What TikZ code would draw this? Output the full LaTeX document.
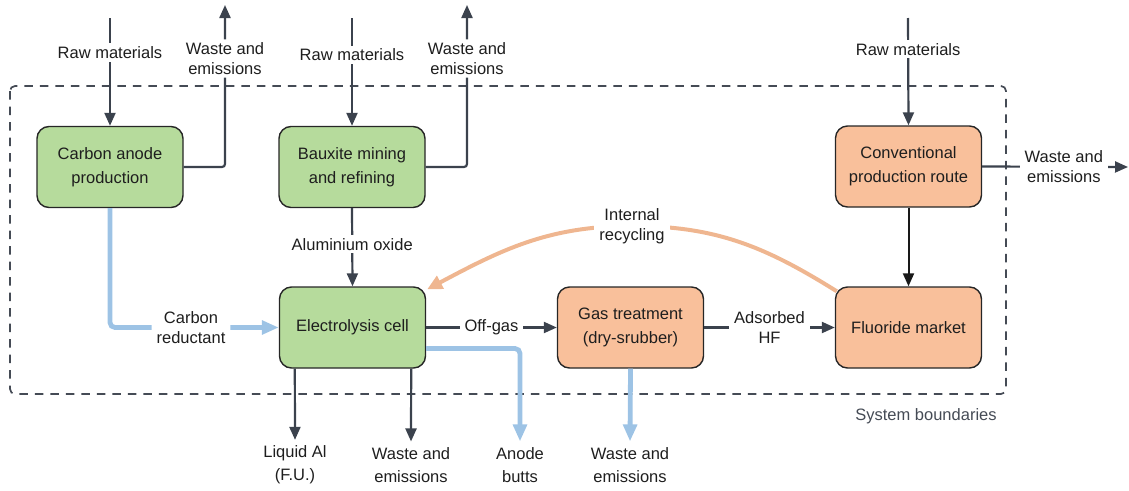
\documentclass[tikz,border=0pt]{standalone}
\usepackage{fontspec}
\setmainfont{Liberation Sans}
\usetikzlibrary{arrows.meta}

\definecolor{inkline}{HTML}{3B424D}
\definecolor{boxgreen}{HTML}{B6DB9C}
\definecolor{boxorange}{HTML}{F9C09B}
\definecolor{flowblue}{HTML}{9DC3E5}
\definecolor{flowsalmon}{HTML}{EFB690}
\definecolor{txt}{HTML}{1E1E1E}
\definecolor{bound}{HTML}{454B55}

\begin{document}
\begin{tikzpicture}[x=1pt,y=-1pt,
  font=\fontsize{16.5}{20}\selectfont,
  proc/.style={draw=black!85, line width=1.4pt, rounded corners=12pt,
    minimum width=146pt, minimum height=81pt, align=center, text=txt,
    font=\fontsize{16.5}{24}\selectfont},
  greenbox/.style={proc, fill=boxgreen},
  orangebox/.style={proc, fill=boxorange},
  flow/.style={draw=inkline, line width=2.2pt, -{Triangle[length=13pt,width=11pt]}},
  darkflow/.style={draw=black!90, line width=2pt, -{Triangle[length=13pt,width=11pt]}},
  blueflow/.style={draw=flowblue, line width=4.8pt, rounded corners=5pt,
    -{Triangle[length=17pt,width=13.5pt]}},
  recyc/.style={draw=flowsalmon, line width=4pt, -{Triangle[length=15pt,width=14pt]}},
  lbl/.style={fill=white, text=txt, align=center, inner xsep=5pt, inner ysep=3pt},
  endlbl/.style={text=txt, align=center, inner sep=2pt, outer sep=4pt,
    font=\fontsize{16.5}{23}\selectfont},
]
\useasboundingbox (0,0) rectangle (1129,490);

% system boundary
\draw[bound, line width=1.7pt, dash pattern=on 8.5pt off 7pt, rounded corners=5pt]
  (10,86) rectangle (1006,394);
\node[text=bound] (sb) at (926,416) {System boundaries};

% process boxes
\node[greenbox] (can) at (110,167) {Carbon anode\\production};
\node[greenbox] (bx) at (352,167) {Bauxite mining\\and refining};
\node[greenbox] (el) at (352.5,327.5) {Electrolysis cell};
\node[orangebox] (gt) at (630.5,327.5) {Gas treatment\\(dry-srubber)};
\node[orangebox] (fl) at (908.5,327.5) {Fluoride market};
\node[orangebox] (cv) at (908.5,166.5) {Conventional\\production route};

% free ends
\coordinate (rmA) at (110,18);
\coordinate (rmB) at (352,18);
\coordinate (rmC) at (908,18);
\coordinate (wA) at (225,5);
\coordinate (wB) at (467,5);
\coordinate (wC) at (1128,167);

% end labels below the system
\node[endlbl] (la) at (295,465) {Liquid Al\\(F.U.)};
\node[endlbl] (we) at (411,465) {Waste and\\emissions};
\node[endlbl] (ab) at (520,465) {Anode\\butts};
\node[endlbl] (wg) at (630,465) {Waste and\\emissions};

% inputs and outputs of the upstream processes
\draw[flow] (rmA) -- node[lbl, pos=0.32] {Raw materials} (can.north);
\draw[flow, rounded corners=3pt] (can.east) -| node[lbl, pos=0.835] {Waste and\\emissions} (wA);
\draw[flow] (rmB) -- node[lbl, pos=0.34] {Raw materials} (bx.north);
\draw[flow, rounded corners=3pt] (bx.east) -| node[lbl, pos=0.835] {Waste and\\emissions} (wB);
\draw[flow] (bx.south) -- node[lbl, pos=0.46] {Aluminium oxide} (el.north);

% carbon reductant
\draw[blueflow] (can.south) |- node[lbl, pos=0.74] {Carbon\\reductant} (el.west);

% electrolysis outputs
\draw[flow] (el.east) -- node[lbl] {Off-gas} (gt.west);
\draw[blueflow] ([yshift=-21pt]el.east) -| (ab.north);
\draw[flow] ([xshift=16pt]el.south west) -- (la.north);
\draw[flow] ([xshift=-15pt]el.south east) -- (we.north);

% gas treatment outputs
\draw[blueflow] (gt.south) -- (wg.north);
\draw[flow] (gt.east) -- node[lbl] {Adsorbed\\HF} (fl.west);

% conventional route
\draw[flow] (rmC) -- node[lbl, pos=0.29] {Raw materials} (cv.north);
\draw[flow] (cv.east) -- node[lbl, pos=0.56] {Waste and\\emissions} (wC);
\draw[darkflow] (cv.south) -- (fl.north);

% internal recycling loop
\coordinate (rc) at (632,226);
\draw[recyc] ([shift={(2pt,-5pt)}]fl.north west) to[out=148,in=0] (rc)
  to[out=180,in=28] ([shift={(1pt,-3pt)}]el.north east);
\node[lbl] (rcl) at (rc) {Internal\\recycling};
\end{tikzpicture}
\end{document}
